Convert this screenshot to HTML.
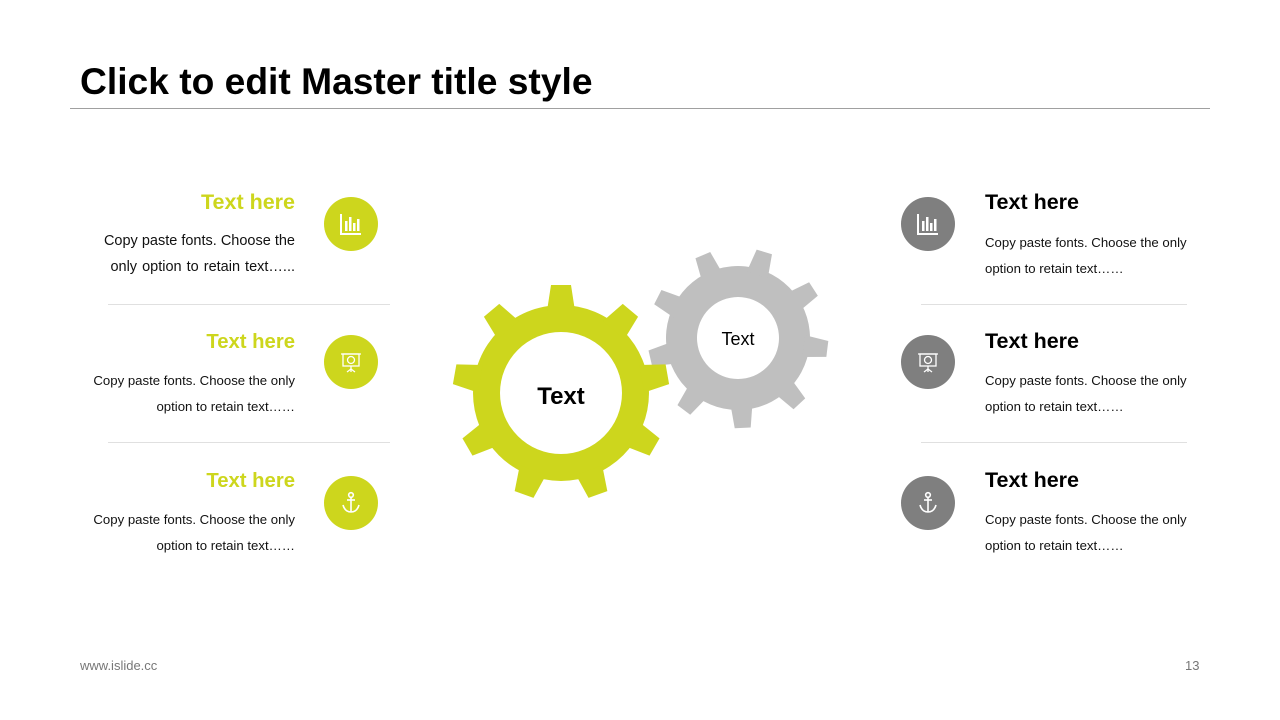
<!DOCTYPE html>
<html><head><meta charset="utf-8"><style>
body{margin:0;width:1280px;height:720px;background:#fff;position:relative;overflow:hidden;font-family:"Liberation Sans",Arial,sans-serif;}
.a{position:absolute;}
.t{font-size:37.2px;font-weight:bold;left:80px;top:60px;color:#000;}
.h{font-size:21.5px;font-weight:bold;line-height:24px;}
.s{font-size:20.3px;}
.g{color:#cdd61d;}
.b{font-size:13.2px;line-height:25.5px;color:#111;}
.l{right:985px;text-align:right;}
.r{left:985px;}
.ln{height:1px;background:#e0e0e0;}
</style></head><body>
<div class="a t">Click to edit Master title style</div>
<div class="a" style="left:70px;top:108px;width:1140px;height:1px;background:#a0a0a0"></div>

<div class="a h g l" style="top:190px">Text here</div>
<div class="a b l" style="top:229px;font-size:14.5px">Copy paste fonts. Choose the<br><span style="word-spacing:1px">only option to retain text…...</span></div>
<div class="a h g l s" style="top:330px">Text here</div>
<div class="a b l" style="top:368px">Copy paste fonts. Choose the only<br>option to retain text……</div>
<div class="a h g l s" style="top:469px">Text here</div>
<div class="a b l" style="top:507px">Copy paste fonts. Choose the only<br>option to retain text……</div>

<div class="a h r" style="top:190px">Text here</div>
<div class="a b r" style="top:230px">Copy paste fonts. Choose the only<br>option to retain text……</div>
<div class="a h r" style="top:329px">Text here</div>
<div class="a b r" style="top:368px">Copy paste fonts. Choose the only<br>option to retain text……</div>
<div class="a h r" style="top:468px">Text here</div>
<div class="a b r" style="top:507px">Copy paste fonts. Choose the only<br>option to retain text……</div>

<div class="a ln" style="left:108px;top:304px;width:282px"></div>
<div class="a ln" style="left:108px;top:442px;width:282px"></div>
<div class="a ln" style="left:921px;top:304px;width:266px"></div>
<div class="a ln" style="left:921px;top:442px;width:266px"></div>

<svg class="a" style="left:0;top:0" width="1280" height="720">
<defs>
<g id="chart"><path d="M-10,-10 V10 H10" stroke="#fff" stroke-width="2" fill="none"/><rect x="-6" y="-3" width="2.5" height="10" fill="#fff"/><rect x="-2" y="-7" width="2.5" height="14" fill="#fff"/><rect x="2" y="-1" width="2.5" height="8" fill="#fff"/><rect x="6" y="-5" width="2.5" height="12" fill="#fff"/></g>
<g id="board" stroke="#fff" fill="none" stroke-width="1.3"><line x1="-10" y1="-8" x2="10" y2="-8"/><rect x="-8" y="-8" width="16" height="12"/><circle cx="0" cy="-2" r="3.5"/><line x1="0" y1="4" x2="0" y2="10"/><line x1="0" y1="7" x2="-4" y2="10"/><line x1="0" y1="7" x2="4" y2="10"/></g>
<g id="anchor" stroke="#fff" fill="none" stroke-width="1.6"><circle cx="0" cy="-8" r="2.3"/><line x1="0" y1="-6" x2="0" y2="9"/><line x1="-4" y1="-3" x2="4" y2="-3"/><path d="M-8,2 Q-6,9 0,9 Q6,9 8,2"/></g>
<polygon id="tg" points="-14,-82 14,-82 10,-108 -10,-108"/>
<polygon id="tq" points="-11,-66 11,-66 8,-90 -8,-90"/>
</defs>
<g fill="#cdd61d">
<circle cx="351" cy="224" r="27"/><circle cx="351" cy="362" r="27"/><circle cx="351" cy="503" r="27"/>
</g>
<g fill="#7f7f7f">
<circle cx="928" cy="224" r="27"/><circle cx="928" cy="362" r="27"/><circle cx="928" cy="503" r="27"/>
</g>
<use href="#chart" x="351" y="224"/><use href="#board" x="351" y="362"/><use href="#anchor" x="351" y="503"/>
<use href="#chart" x="928" y="224"/><use href="#board" x="928" y="362"/><use href="#anchor" x="928" y="503"/>

<g transform="translate(738,338) rotate(17)" fill="#bfbfbf">
<circle r="72"/>
<use href="#tq"/><use href="#tq" transform="rotate(40)"/><use href="#tq" transform="rotate(80)"/><use href="#tq" transform="rotate(120)"/><use href="#tq" transform="rotate(160)"/><use href="#tq" transform="rotate(200)"/><use href="#tq" transform="rotate(240)"/><use href="#tq" transform="rotate(280)"/><use href="#tq" transform="rotate(320)"/>
<circle r="41" fill="#fff"/>
</g>
<g transform="translate(561,393)" fill="#cdd61d">
<circle r="88"/>
<use href="#tg"/><use href="#tg" transform="rotate(40)"/><use href="#tg" transform="rotate(80)"/><use href="#tg" transform="rotate(120)"/><use href="#tg" transform="rotate(160)"/><use href="#tg" transform="rotate(200)"/><use href="#tg" transform="rotate(240)"/><use href="#tg" transform="rotate(280)"/><use href="#tg" transform="rotate(320)"/>
<circle r="61" fill="#fff"/>
</g>
<text x="561" y="404" text-anchor="middle" font-family="Liberation Sans,Arial,sans-serif" font-size="24" font-weight="bold">Text</text>
<text x="738" y="345" text-anchor="middle" font-family="Liberation Sans,Arial,sans-serif" font-size="18">Text</text>
</svg>

<div class="a" style="left:80px;top:658px;font-size:13px;color:#777">www.islide.cc</div>
<div class="a" style="left:1185px;top:658px;font-size:13px;color:#777">13</div>
</body></html>
